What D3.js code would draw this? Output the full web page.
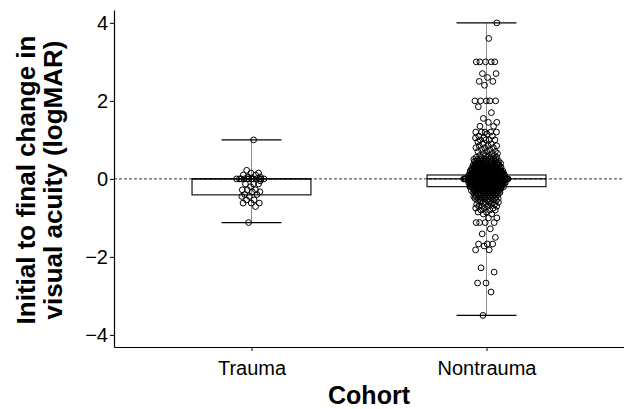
<!DOCTYPE html>
<html>
<head>
<meta charset="utf-8">
<script src="https://cdn.jsdelivr.net/npm/d3@7"></script>
<style>
  body { margin: 0; background: #fff; }
  svg { font-family: "Liberation Sans", Arial, sans-serif; }
</style>
</head>
<body>
<div id="chart"></div>
<script>
var WIDTH = 624;
var HEIGHT = 409;

// cohorts
var cohorts = ["Trauma", "Nontrauma"];
var yTicks = [-4, -2, 0, 2, 4];

// box summaries: min, q1, median, q3, max
var boxMin = [-1.12, -3.5];
var boxQ1 = [-0.41, -0.2];
var boxMedian = [0, 0];
var boxQ3 = [0, 0.1];
var boxMax = [1.0, 4.0];

// observed change values (level, how many circles at that level)
var traumaLevels = [1.0, 0.22, 0.15, 0.1, 0.05, 0, -0.05, -0.13, -0.2, -0.28, -0.33, -0.4, -0.45, -0.54, -0.62, -0.71, -1.12];
var traumaCounts = [1, 1, 2, 2, 2, 12, 1, 3, 1, 3, 2, 2, 2, 2, 3, 1, 1];

var nontraumaLevels = [4.0, 3.6, 3.0, 2.7, 2.6, 2.5, 2.4, 2.0, 1.85, 1.7, 1.55, 1.45, 1.35, 1.2, 1.15, 1.1, 1.05, 1.0,
	0.95, 0.9, 0.85, 0.8, 0.75, 0.7, 0.65, 0.6, 0.55, 0.5, 0.45, 0.4, 0.35, 0.3, 0.25, 0.2, 0.15, 0.1, 0.05, 0,
	-0.05, -0.1, -0.15, -0.2, -0.25, -0.3, -0.35, -0.4, -0.45, -0.5, -0.55, -0.6, -0.65, -0.7, -0.75, -0.8, -0.85, -0.9,
	-1.0, -1.12, -1.28, -1.41, -1.5, -1.67, -1.72, -1.82, -2.28, -2.39, -2.67, -2.9, -3.5];
var nontraumaCounts = [1, 1, 5, 2, 1, 2, 1, 5, 1, 1, 1, 2, 2, 5, 1, 2, 2, 4,
	1, 2, 3, 3, 2, 3, 3, 4, 5, 8, 9, 12, 12, 16, 16, 22, 22, 30, 28, 48,
	28, 30, 22, 24, 16, 15, 11, 10, 8, 7, 5, 5, 4, 4, 3, 3, 2, 2,
	2, 4, 1, 1, 1, 3, 1, 2, 1, 1, 2, 1, 1];

var levels = [traumaLevels, nontraumaLevels];
var counts = [traumaCounts, nontraumaCounts];

var margin = { top: 10, right: 0, bottom: 62, left: 114 };
var plotWidth = WIDTH - margin.left - margin.right;
var plotHeight = HEIGHT - margin.top - margin.bottom;

var svg = d3.select("#chart").append("svg")
	.attr("width", WIDTH).attr("height", HEIGHT);

var inner = svg.append("g")
	.attr("transform", `translate(${margin.left},${margin.top})`);

// scales
var xScale = d3.scalePoint().domain(cohorts).range([0, plotWidth]).padding(0.585);
var yScale = d3.scaleLinear().domain([-4.31, 4.33]).range([plotHeight, 0]);
var step = xScale.step();
var boxWidth = step * 0.506;
var capWidth = step * 0.255;

// zero reference line
inner.append("line")
	.attr("x1", 0).attr("x2", plotWidth)
	.attr("y1", yScale(0)).attr("y2", yScale(0))
	.attr("stroke", "#000").attr("stroke-width", 0.8)
	.attr("stroke-dasharray", "3,2");

cohorts.forEach(function (c, i) {
	var cx = xScale(c);
	var g = inner.append("g");

	// whisker (dotted)
	g.append("line")
		.attr("x1", cx).attr("x2", cx)
		.attr("y1", yScale(boxMin[i])).attr("y2", yScale(boxMax[i]))
		.attr("stroke", "#000").attr("stroke-width", 0.9)
		.attr("stroke-dasharray", "1,1");

	// caps
	[boxMin[i], boxMax[i]].forEach(function (v) {
		g.append("line")
			.attr("x1", cx - capWidth / 2).attr("x2", cx + capWidth / 2)
			.attr("y1", yScale(v)).attr("y2", yScale(v))
			.attr("stroke", "#000").attr("stroke-width", 1.2);
	});

	// box
	g.append("rect")
		.attr("x", cx - boxWidth / 2)
		.attr("width", boxWidth)
		.attr("y", yScale(boxQ3[i]))
		.attr("height", Math.max(0.5, yScale(boxQ1[i]) - yScale(boxQ3[i])))
		.attr("fill", "none")
		.attr("stroke", "#000").attr("stroke-width", 1.1);

	g.append("line")
		.attr("x1", cx - boxWidth / 2).attr("x2", cx + boxWidth / 2)
		.attr("y1", yScale(boxMedian[i])).attr("y2", yScale(boxMedian[i]))
		.attr("stroke", "#000").attr("stroke-width", 1.1);

	// points, spread sideways more where values pile up
	var maxCount = d3.max(counts[i]);
	var base = i === 0 ? 8 : 10;
	var extra = i === 0 ? 8 : 13;
	var pts = [];
	var k = 0;
	levels[i].forEach(function (v, j) {
		var n = counts[i][j];
		var half = base + extra * Math.pow(n / maxCount, 0.8);
		for (var m = 0; m < n; m++) {
			k++;
			var u = ((k * 0.6180339887 + i * 0.37) % 1) * 2 - 1;
			pts.push({ value: v, dx: u * half });
		}
	});

	g.selectAll("circle")
		.data(pts)
		.enter()
		.append("circle")
		.attr("cx", function (d) { return cx + d.dx; })
		.attr("cy", function (d) { return yScale(d.value); })
		.attr("r", 2.9)
		.attr("fill", "none")
		.attr("stroke", "#000")
		.attr("stroke-width", 1);
});

// axes
var xAxisG = inner.append("g").attr("transform", `translate(0, ${plotHeight})`)
	.call(d3.axisBottom(xScale).tickSize(4).tickSizeOuter(0));
var yAxisG = inner.append("g")
	.call(d3.axisLeft(yScale).tickValues(yTicks).tickSize(4).tickSizeOuter(0)
		.tickFormat(function (d) { return d < 0 ? "\u2212" + Math.abs(d) : d; }));

[xAxisG, yAxisG].forEach(function (a) {
	a.select(".domain").attr("stroke", "#000").attr("stroke-width", 1.2);
	a.selectAll(".tick line").attr("stroke", "#000");
	a.selectAll(".tick text")
		.attr("fill", "#000")
		.style("font-family", "'Liberation Sans', Arial, sans-serif")
		.style("font-size", "20px");
});
xAxisG.selectAll(".tick text").attr("dy", "1.05em");
yAxisG.selectAll(".tick text").attr("x", -6);

// axis titles
svg.append("text")
	.attr("x", margin.left + plotWidth / 2)
	.attr("y", 404)
	.attr("text-anchor", "middle")
	.style("font-size", "25px").style("font-weight", "bold")
	.text("Cohort");

var yTitle = svg.append("text")
	.attr("transform", "translate(35,180) rotate(-90)")
	.attr("text-anchor", "middle")
	.style("font-size", "26px").style("font-weight", "bold");
yTitle.append("tspan").attr("x", 0).attr("y", 0).text("Initial to final change in");
yTitle.append("tspan").attr("x", 0).attr("y", 27).text("visual acuity (logMAR)");
</script>
</body>
</html>
